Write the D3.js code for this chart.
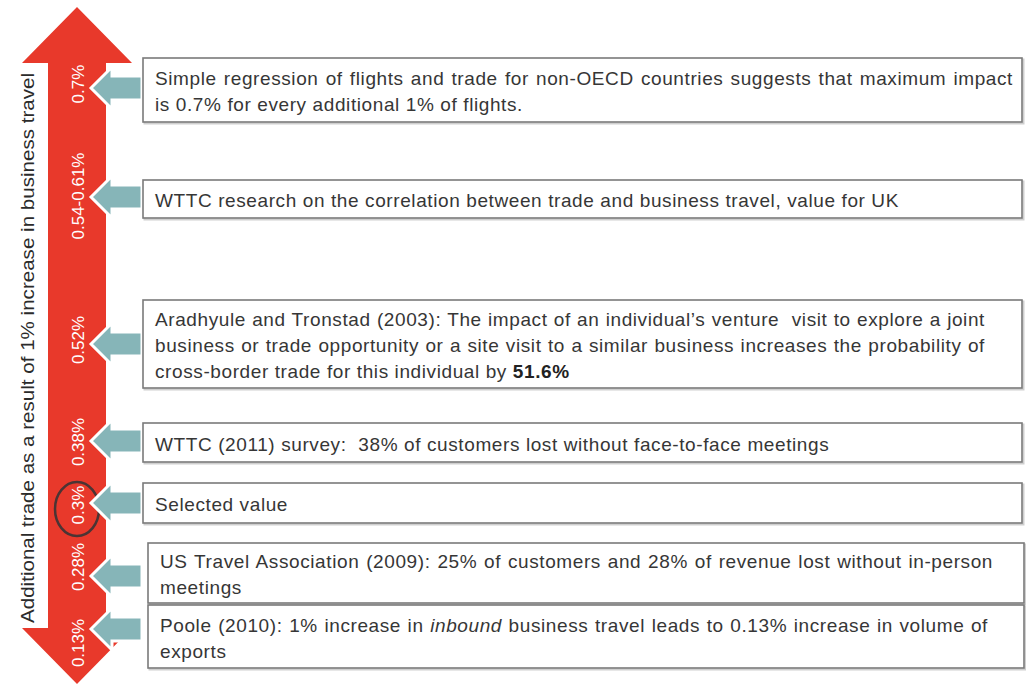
<!DOCTYPE html>
<html><head><meta charset="utf-8">
<script src="https://cdn.jsdelivr.net/npm/d3@7/dist/d3.min.js"></script>
<style>html,body{margin:0;padding:0;background:#fff;}svg{display:block;font-family:"Liberation Sans",Arial,sans-serif;}
.bt{white-space:pre;}</style>
</head><body>
<svg id="c" width="1026" height="686"></svg>
<script>
// ---- data ----
const axisTitle = "Additional trade as a result of 1% increase in business travel";
const valueLabels = ["0.7%", "0.54-0.61%", "0.52%", "0.38%", "0.3%", "0.28%", "0.13%"];
const selectedIndex = 4;
// each box: list of lines, each line list of [text, style] runs
const boxTexts = [
  [[["Simple regression of flights and trade for non-OECD countries suggests that maximum impact", ""]],
   [["is 0.7% for every additional 1% of flights.", ""]]],
  [[["WTTC research on the correlation between trade and business travel, value for UK", ""]]],
  [[["Aradhyule and Tronstad (2003): The impact of an individual\u2019s venture  visit to explore a joint", ""]],
   [["business or trade opportunity or a site visit to a similar business increases the probability of", ""]],
   [["cross-border trade for this individual by ", ""], ["51.6%", "bold"]]],
  [[["WTTC (2011) survey:  38% of customers lost without face-to-face meetings", ""]]],
  [[["Selected value", ""]]],
  [[["US Travel Association (2009): 25% of customers and 28% of revenue lost without in-person", ""]],
   [["meetings", ""]]],
  [[["Poole (2010): 1% increase in ", ""], ["inbound", "italic"], [" business travel leads to 0.13% increase in volume of", ""]],
   [["exports", ""]]]
];

// ---- layout (positions / styles) ----
const boxTop    = [58, 180, 300, 423, 483, 543, 605];
const boxBottom = [122, 218, 388, 462, 523, 603, 668];
const boxLeft   = [143, 143, 143, 143, 143, 148, 148];
const boxRight  = [1022, 1022, 1022, 1022, 1022, 1024, 1024];
const justifyW  = [858, 0, 830, 0, 0, 833, 828];
const arrowY    = [88, 197, 344, 441, 503, 576, 629];
const labelY    = [84, 196, 340, 442, 505, 567, 643];

const RED = "#e8392b", TEAL = "#86b5b8", TXT = "#363636";
const svg = d3.select("#c");

// ---- big red double arrow ----
const cx = 77, shaftL = 48, shaftR = 106, headL = 22, headR = 132;
const yTop = 7, yHeadTop = 63, yHeadBot = 628, yBot = 684;
const arrowPts = [[cx,yTop],[headR,yHeadTop],[shaftR,yHeadTop],[shaftR,yHeadBot],[headR,yHeadBot],[cx,yBot],
  [headL,yHeadBot],[shaftL,yHeadBot],[shaftL,yHeadTop],[headL,yHeadTop]];
svg.append("path").attr("d", d3.line()(arrowPts) + "Z").attr("fill", RED);

// axis title
svg.append("text").attr("transform", "translate(34,348) rotate(-90)")
  .attr("text-anchor", "middle").attr("fill", "#2b2b2b").attr("font-size", 18).text(axisTitle)
  .attr("textLength", 550).attr("lengthAdjust", "spacingAndGlyphs");

// value labels on arrow
svg.selectAll("text.val").data(valueLabels).join("text").attr("class", "val")
  .attr("transform", (d, i) => `translate(${cx + 1},${labelY[i]}) rotate(-90)`)
  .attr("text-anchor", "middle").attr("dominant-baseline", "central")
  .attr("fill", "#fff").attr("font-size", 17).text(d => d);

// selected ellipse
svg.append("ellipse").attr("cx", 77).attr("cy", 509).attr("rx", 22).attr("ry", 27)
  .attr("fill", "none").attr("stroke", "#4b3434").attr("stroke-width", 2.5);

// teal pointer arrows
const tipX = 91, headBaseX = 112, shaftEnd = 142, headH = 21, shaftH = 12;
svg.selectAll("path.ptr").data(valueLabels).join("path").attr("class", "ptr")
  .attr("d", (d, i) => {
    const y = arrowY[i];
    return d3.line()([[tipX,y],[headBaseX,y-headH],[headBaseX,y-shaftH],[shaftEnd,y-shaftH],
      [shaftEnd,y+shaftH],[headBaseX,y+shaftH],[headBaseX,y+headH]]) + "Z";
  })
  .attr("fill", TEAL).attr("stroke", "#fff").attr("stroke-width", 3).attr("stroke-linejoin", "miter");

// boxes
const gb = svg.selectAll("g.box").data(boxTexts).join("g").attr("class", "box");
gb.append("rect").attr("x", (d, i) => boxLeft[i] + 1.5).attr("y", (d, i) => boxTop[i] + 1.5)
  .attr("width", (d, i) => boxRight[i] - boxLeft[i]).attr("height", (d, i) => boxBottom[i] - boxTop[i])
  .attr("fill", "none").attr("stroke", "#cfcfcf").attr("stroke-width", 2);
gb.append("rect").attr("x", (d, i) => boxLeft[i]).attr("y", (d, i) => boxTop[i])
  .attr("width", (d, i) => boxRight[i] - boxLeft[i]).attr("height", (d, i) => boxBottom[i] - boxTop[i])
  .attr("fill", "#fff").attr("stroke", "#7a7a7a").attr("stroke-width", 1.6);

const LH = 26, FS = 19, LS = 0.6;
gb.each(function(lines, i) {
  const g = d3.select(this);
  const n = lines.length;
  const mid = (boxTop[i] + boxBottom[i]) / 2 + 1;
  const x0 = boxLeft[i] + 12;
  lines.forEach((runs, j) => {
    const t = g.append("text").attr("class", "bt").attr("x", x0).attr("y", mid + (j - (n - 1) / 2) * LH)
      .attr("dominant-baseline", "central").attr("fill", TXT).attr("font-size", FS)
      .attr("letter-spacing", LS);
    runs.forEach(([s, st]) => {
      const sp = t.append("tspan").text(s);
      if (st === "bold") sp.attr("font-weight", "bold").attr("fill", "#222");
      if (st === "italic") sp.attr("font-style", "italic");
    });
    if (justifyW[i] && j < n - 1) {
      const full = runs.map(r => r[0]).join("");
      const spaces = (full.match(/ /g) || []).length;
      const w = t.node().getComputedTextLength();
      if (spaces && justifyW[i] > w) t.attr("word-spacing", (justifyW[i] - w) / spaces);
      else if (justifyW[i] < w) t.attr("textLength", justifyW[i]).attr("lengthAdjust", "spacingAndGlyphs");
    }
  });
});
</script>
</body></html>
